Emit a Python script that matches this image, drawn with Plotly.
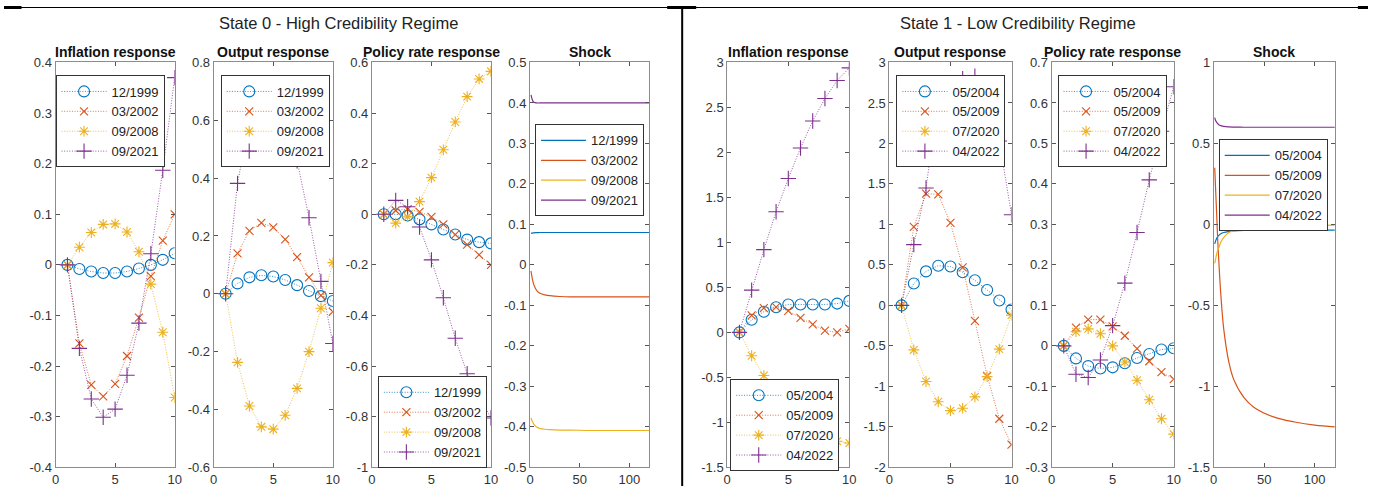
import plotly.graph_objects as go

# ---- data ----
steps = [1, 2, 3, 4, 5, 6, 7, 8, 9, 10]
shock_t = [1, 2, 3, 4, 5, 7, 10, 15, 20, 30, 40, 60, 80, 100, 120]

dates_s0 = ["12/1999", "03/2002", "09/2008", "09/2021"]
dates_s1 = ["05/2004", "05/2009", "07/2020", "04/2022"]

# state 0 - high credibility
infl_s0 = [
    [0, -0.008, -0.013, -0.016, -0.016, -0.013, -0.007, 0.0, 0.01, 0.023],
    [0, -0.155, -0.237, -0.26, -0.235, -0.18, -0.104, -0.022, 0.048, 0.1],
    [0, 0.035, 0.064, 0.08, 0.081, 0.065, 0.026, -0.038, -0.133, -0.262],
    [0, -0.165, -0.265, -0.301, -0.285, -0.218, -0.115, 0.022, 0.187, 0.37],
]
output_s0 = [
    [0, 0.036, 0.057, 0.064, 0.06, 0.048, 0.03, 0.01, -0.008, -0.025],
    [0, 0.14, 0.218, 0.245, 0.23, 0.188, 0.127, 0.057, -0.005, -0.062],
    [0, -0.237, -0.388, -0.46, -0.468, -0.42, -0.327, -0.2, -0.05, 0.108],
    [0, 0.382, 0.6, 0.7, 0.72, 0.62, 0.46, 0.263, 0.043, -0.172],
]
rate_s0 = [
    [0, 0.0, -0.005, -0.02, -0.04, -0.06, -0.08, -0.1, -0.11, -0.115],
    [0, 0.015, 0.02, 0.01, -0.01, -0.04, -0.08, -0.12, -0.16, -0.2],
    [0, -0.035, -0.01, 0.05, 0.145, 0.255, 0.365, 0.465, 0.535, 0.565],
    [0, 0.055, 0.03, -0.05, -0.18, -0.33, -0.49, -0.63, -0.72, -0.805],
]
shock_s0 = [
    [0.078, 0.0785, 0.079, 0.079, 0.0795, 0.0795, 0.08, 0.08, 0.08, 0.08, 0.08, 0.08, 0.08, 0.08, 0.08],
    [-0.015, -0.03, -0.042, -0.05, -0.056, -0.064, -0.07, -0.074, -0.076, -0.078, -0.079, -0.079, -0.079, -0.079, -0.079],
    [-0.378, -0.385, -0.39, -0.394, -0.397, -0.401, -0.404, -0.406, -0.407, -0.408, -0.408, -0.409, -0.409, -0.409, -0.409],
    [0.42, 0.41, 0.404, 0.402, 0.401, 0.4, 0.4, 0.4, 0.4, 0.4, 0.4, 0.4, 0.4, 0.4, 0.4],
]

# state 1 - low credibility
infl_s1 = [
    [0, 0.14, 0.23, 0.28, 0.31, 0.31, 0.31, 0.31, 0.32, 0.35],
    [0, 0.19, 0.27, 0.28, 0.24, 0.16, 0.09, 0.02, 0.0, 0.04],
    [0, -0.26, -0.48, -0.68, -0.85, -0.98, -1.08, -1.16, -1.21, -1.23],
    [0, 0.47, 0.92, 1.34, 1.71, 2.05, 2.35, 2.6, 2.8, 2.94],
]
output_s1 = [
    [0, 0.27, 0.42, 0.49, 0.48, 0.41, 0.31, 0.19, 0.06, -0.05],
    [0, 0.97, 1.38, 1.37, 1.02, 0.47, -0.19, -0.87, -1.4, -1.72],
    [0, -0.55, -0.94, -1.19, -1.3, -1.27, -1.13, -0.88, -0.54, -0.12],
    [0, 0.75, 1.45, 2.55, 2.75, 2.8, 2.83, 2.55, 2.03, 1.12],
]
rate_s1 = [
    [0, -0.031, -0.05, -0.056, -0.053, -0.043, -0.03, -0.02, -0.009, -0.006],
    [0, 0.045, 0.065, 0.065, 0.048, 0.025, -0.007, -0.038, -0.065, -0.082],
    [0, 0.035, 0.042, 0.03, 0.0, -0.04, -0.085, -0.133, -0.18, -0.218],
    [0, -0.07, -0.078, -0.035, 0.05, 0.155, 0.28, 0.41, 0.53, 0.64],
]
shock_s1 = [
    [-0.12, -0.1, -0.085, -0.075, -0.068, -0.058, -0.05, -0.044, -0.04, -0.037, -0.036, -0.035, -0.035, -0.035, -0.035],
    [0.35, 0.2, 0.05, -0.1, -0.22, -0.43, -0.65, -0.85, -0.96, -1.07, -1.13, -1.19, -1.22, -1.24, -1.25],
    [-0.24, -0.21, -0.18, -0.16, -0.145, -0.11, -0.08, -0.05, -0.04, -0.03, -0.022, -0.015, -0.01, -0.006, -0.004],
    [0.66, 0.64, 0.63, 0.622, 0.616, 0.61, 0.605, 0.602, 0.601, 0.6, 0.6, 0.6, 0.6, 0.6, 0.6],
]

panel_titles = ["Inflation response", "Output response", "Policy rate response", "Shock"]
state_titles = ["State 0 - High Credibility Regime", "State 1 - Low Credibility Regime"]

resp_xticks = [0, 5, 10]
shock_xticks = [0, 50, 100]
yticks = [
    [-0.4, -0.3, -0.2, -0.1, 0, 0.1, 0.2, 0.3, 0.4],
    [-0.6, -0.4, -0.2, 0, 0.2, 0.4, 0.6, 0.8],
    [-1, -0.8, -0.6, -0.4, -0.2, 0, 0.2, 0.4, 0.6],
    [-0.5, -0.4, -0.3, -0.2, -0.1, 0, 0.1, 0.2, 0.3, 0.4, 0.5],
    [-1.5, -1, -0.5, 0, 0.5, 1, 1.5, 2, 2.5, 3],
    [-2, -1.5, -1, -0.5, 0, 0.5, 1, 1.5, 2, 2.5, 3],
    [-0.3, -0.2, -0.1, 0, 0.1, 0.2, 0.3, 0.4, 0.5, 0.6, 0.7],
    [-1.5, -1, -0.5, 0, 0.5, 1],
]

# ---- styling ----
W, H = 1375, 494
colors = ["#0072BD", "#D95319", "#EDB120", "#7E2F8E"]
symbols = ["circle-open", "x-thin-open", "asterisk-open", "cross-thin-open"]
msizes = [11, 8, 9, 11]
FONT = "Liberation Sans, Arial, sans-serif"


# the photo comes out slightly shrunk/offset, so lay out in reference pixels
# and convert with a small correction
def px_x(v):
    return max(0.0, (v - 4.5) / 0.991) / W


def px_y(v):
    return 1 - max(0.5, (v - 6.5) / 0.97) / H


# axes positions in reference pixels (left, right)
ax_px = [(56, 175), (214, 333), (372, 491), (530, 649),
         (727, 849), (889, 1011), (1051, 1173), (1213, 1334)]
top_px, bot_px = 62, 467
# legend top-left corners in reference pixels
leg_px = [(56, 75), (221, 75), (378, 376), (535, 124),
          (730, 379), (896, 75), (1057, 75), (1218, 139)]

fig = go.Figure()

panels = [infl_s0, output_s0, rate_s0, shock_s0, infl_s1, output_s1, rate_s1, shock_s1]
for p, series in enumerate(panels):
    dates = dates_s0 if p < 4 else dates_s1
    is_shock = p % 4 == 3
    ax = "" if p == 0 else str(p + 1)
    leg = "legend" if p == 0 else "legend" + str(p + 1)
    for i, vals in enumerate(series):
        if is_shock:
            fig.add_trace(go.Scatter(
                x=shock_t, y=vals, mode="lines", name=dates[i],
                line=dict(color=colors[i], width=1.2, shape="spline"),
                xaxis="x" + ax, yaxis="y" + ax, legend=leg))
        else:
            fig.add_trace(go.Scatter(
                x=steps, y=vals, mode="lines+markers", name=dates[i],
                line=dict(color=colors[i], width=0.8, dash="1px,1.6px"),
                marker=dict(symbol=symbols[i], size=msizes[i], color=colors[i],
                            line=dict(width=1.1, color=colors[i])),
                xaxis="x" + ax, yaxis="y" + ax, legend=leg))

    l, r = ax_px[p]
    xt = shock_xticks if is_shock else resp_xticks
    yt = yticks[p]
    common = dict(showline=True, linecolor="#8c8c8c", linewidth=1, mirror="ticks",
                  ticks="inside", ticklen=4, tickcolor="#555555", showgrid=False,
                  zeroline=False, tickfont=dict(family=FONT, size=13, color="#333333"))
    fig.update_layout({
        "xaxis" + ax: dict(domain=[px_x(l), px_x(r)], range=[0, 120 if is_shock else 10],
                           tickvals=xt, ticktext=["%g" % v for v in xt],
                           anchor="y" + ax, **common),
        "yaxis" + ax: dict(domain=[px_y(bot_px), px_y(top_px)], range=[yt[0], yt[-1]],
                           tickvals=yt, ticktext=["%g" % v for v in yt],
                           anchor="x" + ax, **common),
        leg: dict(x=px_x(leg_px[p][0]), y=px_y(leg_px[p][1]), xanchor="left", yanchor="top",
                  bgcolor="white", bordercolor="#333333", borderwidth=1,
                  font=dict(family=FONT, size=13, color="#222222"),
                  tracegroupgap=0, itemwidth=45),
    })
    fig.add_annotation(x=px_x((l + r) / 2), y=px_y(52), xref="paper", yref="paper",
                       text="<b>" + panel_titles[p % 4] + "</b>", showarrow=False,
                       xanchor="center", yanchor="middle",
                       font=dict(family=FONT, size=14, color="#111111"))

for tx, txt in zip([339, 1017], state_titles):
    fig.add_annotation(x=px_x(tx), y=px_y(23), xref="paper", yref="paper", text=txt,
                       showarrow=False, xanchor="center", yanchor="middle",
                       font=dict(family=FONT, size=16.5, color="#222222"))

# table borders around the two figures
border = [
    (0, 1.5, W, 1.5, 1.2),
    (0, 2, 22, 2, 3),
    (667, 2, 696, 2, 3),
    (1357, 2, W + 20, 2, 3),
    (682, 0, 682, H + 20, 2),
]
for x0, y0, x1, y1, w in border:
    fig.add_shape(type="line", xref="paper", yref="paper",
                  x0=px_x(x0), x1=min(1, px_x(x1)), y0=px_y(y0), y1=max(0, px_y(y1)),
                  line=dict(color="black", width=w))

fig.update_layout(width=W, height=H, margin=dict(l=0, r=0, t=0, b=0),
                  paper_bgcolor="white", plot_bgcolor="white", showlegend=True)

fig.write_html("out.html", config={"displayModeBar": False},
               post_script="document.body.style.margin='0';document.body.style.overflow='hidden';")
